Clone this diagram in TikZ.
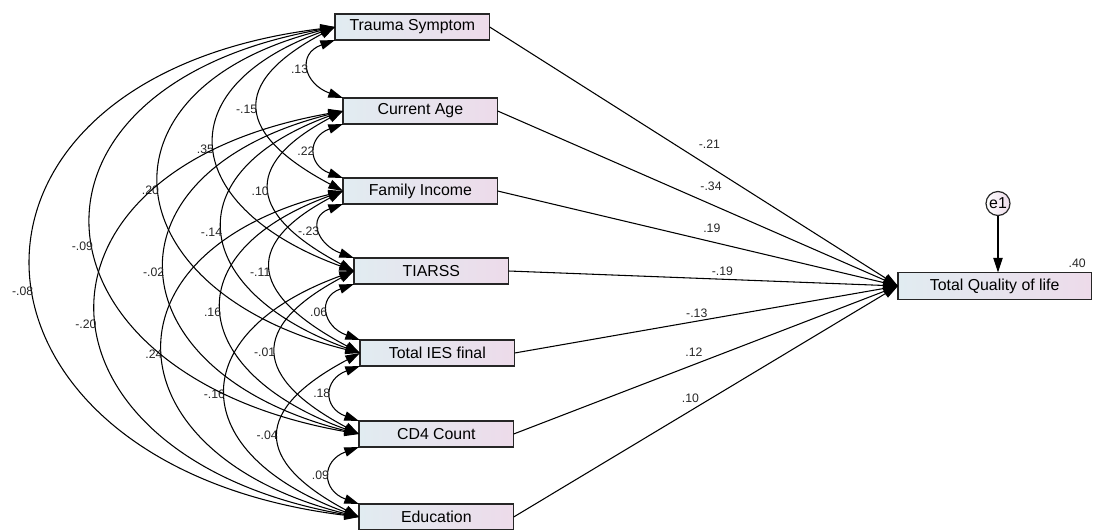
\documentclass[tikz,border=0pt]{standalone}
\usepackage{fontspec}
\setmainfont{Liberation Sans}
\usetikzlibrary{positioning, arrows.meta}
\definecolor{boxl}{RGB}{225,236,241}
\definecolor{boxr}{RGB}{237,219,234}
\tikzset{>={Triangle[length=11pt, width=7pt]}}
\tikzset{line/.style={draw, line width=0.8pt, ->}}
\tikzset{cov/.style={draw, line width=0.8pt, <->}}

\begin{document}
\begin{tikzpicture}[node distance = 40pt]
\tikzstyle{var} = [rectangle, draw=black!85, line width=0.9pt, left color=boxl, right color=boxr, minimum width=116pt, minimum height=19.5pt, inner sep=0pt, outer sep=0pt, font=\fontsize{11.9}{13}\selectfont]
\tikzstyle{err} = [circle, draw=black!85, line width=0.9pt, left color=white, right color=boxr, minimum size=18pt, inner sep=0pt, outer sep=0pt, font=\fontsize{11.9}{13}\selectfont]
\tikzstyle{lbl} = [inner sep=1pt, font=\fontsize{9.2}{10}\selectfont, text=black!85]

\useasboundingbox (0,0) rectangle (819.75pt,-396.75pt);

\node [var, anchor=north west] (ts) at (251.25pt,-10.5pt) {Trauma Symptom};
\node [var, below=43.5pt of ts.south west, anchor=north west, xshift=6pt] (age) {Current Age};
\node [var, below=40.5pt of age.south west, anchor=north west] (inc) {Family Income};
\node [var, below=40.5pt of inc.south west, anchor=north west, xshift=8.25pt] (tia) {TIARSS};
\node [var, below=42pt of tia.south west, anchor=north west, xshift=4.5pt] (ies) {Total IES final};
\node [var, below=41.25pt of ies.south west, anchor=north west, xshift=-0.75pt] (cd4) {CD4 Count};
\node [var, below=42.75pt of cd4.south west, anchor=north west] (edu) {Education};
\node [var, right=292pt of tia, yshift=-11.25pt, minimum width=145pt, minimum height=20.25pt] (tql) {Total Quality of life};
\node [err, above=42.75pt of tql, xshift=2.5pt] (e1) {e1};
\node [lbl, above left=2.5pt and 3pt of tql.north east] (r2) {.40};

% regression weights
\path [line] (ts.east) -- node[lbl, pos=.538, above=12.3pt] (r1) {-.21} (tql.west);
\path [line] (age.east) -- node[lbl, pos=.533, above=8.5pt] (r2a) {-.34} (tql.west);
\path [line] (inc.east) -- node[lbl, pos=.535, above=5.5pt] (r3) {.19} (tql.west);
\path [line] (tia.east) -- node[lbl, pos=.549, above=1pt] (r4) {-.19} (tql.west);
\path [line] (ies.east) -- node[lbl, pos=.475, above=1pt] (r5) {-.13} (tql.west);
\path [line] (cd4.east) -- node[lbl, pos=.469, above=4.8pt] (r6) {.12} (tql.west);
\path [line] (edu.east) -- node[lbl, pos=.46, above=4.8pt] (r7) {.10} (tql.west);
\path [line] (e1) -- (e1 |- tql.north);

% covariances
\draw [cov] (ts.south west) to [out=200, in=160, looseness=1.8] node[lbl, left] (c12) {.13} (age.north west);
\draw [cov] (age.south west) to [out=200, in=160, looseness=1.8] node[lbl, left] (c23) {.22} (inc.north west);
\draw [cov] (inc.south west) to [out=200, in=160, looseness=1.8] node[lbl, left] (c34) {-.23} (tia.north west);
\draw [cov] (tia.south west) to [out=200, in=160, looseness=1.8] node[lbl, left] (c45) {.06} (ies.north west);
\draw [cov] (ies.south west) to [out=200, in=160, looseness=1.8] node[lbl, left] (c56) {.18} (cd4.north west);
\draw [cov] (cd4.south west) to [out=200, in=160, looseness=1.8] node[lbl, left] (c67) {.09} (edu.north west);

\draw [cov] (ts.west) to [out=208, in=152, looseness=1.88] node[lbl, left] (c13) {-.15} (inc.west);
\draw [cov] (age.west) to [out=208, in=152, looseness=1.88] node[lbl, left] (c24) {.10} (tia.west);
\draw [cov] (inc.west) to [out=208, in=152, looseness=1.88] node[lbl, left] (c35) {-.11} (ies.west);
\draw [cov] (tia.west) to [out=208, in=152, looseness=1.88] node[lbl, left] (c46) {-.01} (cd4.west);
\draw [cov] (ies.west) to [out=208, in=152, looseness=1.88] node[lbl, left] (c57) {-.04} (edu.west);

\draw [cov] (ts.west) to [out=200, in=160, looseness=1.91] node[lbl, left] (c14) {.35} (tia.west);
\draw [cov] (age.west) to [out=200, in=160, looseness=1.91] node[lbl, left] (c25) {-.14} (ies.west);
\draw [cov] (inc.west) to [out=200, in=160, looseness=1.91] node[lbl, left] (c36) {.16} (cd4.west);
\draw [cov] (tia.west) to [out=200, in=160, looseness=1.91] node[lbl, left] (c47) {-.16} (edu.west);

\draw [cov] (ts.west) to [out=194, in=166, looseness=2.01] node[lbl, left] (c15) {.20} (ies.west);
\draw [cov] (age.west) to [out=194, in=166, looseness=2.01] node[lbl, left] (c26) {-.02} (cd4.west);
\draw [cov] (inc.west) to [out=194, in=166, looseness=2.01] node[lbl, left] (c37) {.24} (edu.west);

\draw [cov] (ts.west) to [out=190, in=170, looseness=2.16] node[lbl, left, pos=.53] (c16) {-.09} (cd4.west);
\draw [cov] (age.west) to [out=190, in=170, looseness=2.16] node[lbl, left, pos=.52] (c27) {-.20} (edu.west);

\draw [cov] (ts.west) to [out=187, in=173, looseness=2.2] node[lbl, left, pos=.53] (c17) {-.08} (edu.west);

\end{tikzpicture}
\end{document}
